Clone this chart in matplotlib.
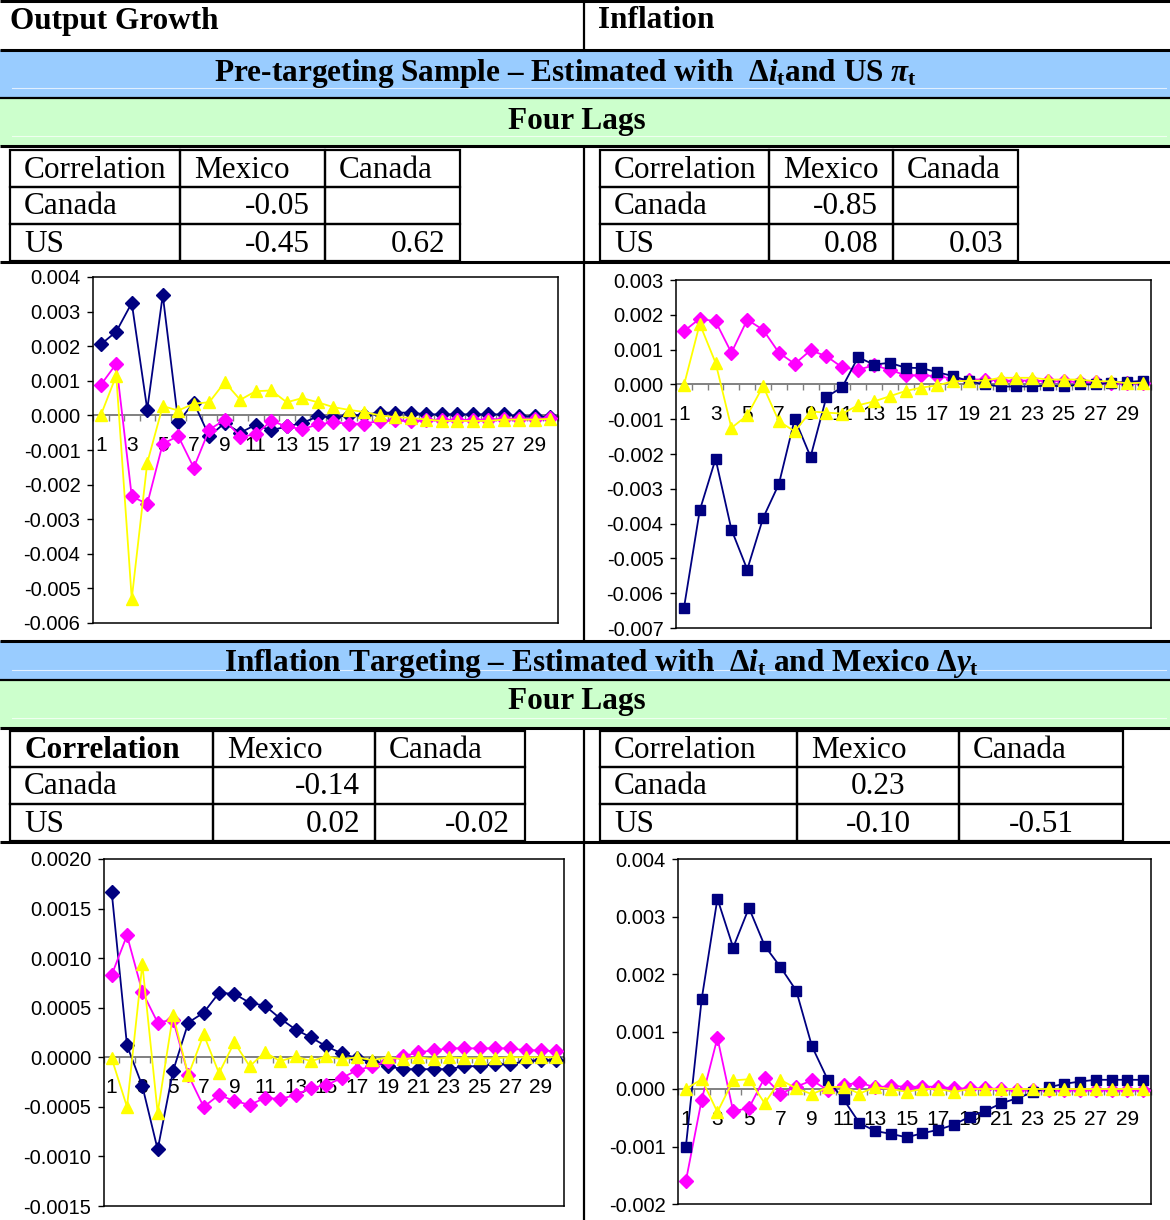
import matplotlib
matplotlib.use('Agg')
import matplotlib.pyplot as plt
from matplotlib.patches import Rectangle
from matplotlib.ticker import FormatStrFormatter
import numpy as np

plt.rcParams['font.family'] = ['Liberation Sans', 'DejaVu Sans']
plt.rcParams['axes.unicode_minus'] = False
plt.rcParams['mathtext.fontset'] = 'custom'
plt.rcParams['mathtext.rm'] = 'Liberation Serif:bold'
plt.rcParams['mathtext.it'] = 'Liberation Serif:italic:bold'
plt.rcParams['mathtext.bf'] = 'Liberation Serif:bold'

W, H = 1170, 1220

steps = np.arange(1, 31)

# impulse responses, pre-targeting sample
og_pre_mex = [0.00205, 0.00242, 0.00325, 0.00017, 0.00348, -0.00019, 0.00037, -0.00060, -0.00022, -0.00050,
              -0.00027, -0.00043, -0.00032, -0.00022, -0.00003, -0.00005, 0.00000, 0.00002, 0.00008, 0.00008,
              0.00008, 0.00003, 0.00003, 0.00003, 0.00003, 0.00003, 0.00003, -0.00003, -0.00003, -0.00005]
og_pre_can = [0.00088, 0.00149, -0.00234, -0.00256, -0.00082, -0.00060, -0.00151, -0.00041, -0.00013, -0.00062,
              -0.00055, -0.00016, -0.00032, -0.00040, -0.00026, -0.00020, -0.00024, -0.00024, -0.00016, -0.00014,
              -0.00017, -0.00013, -0.00013, -0.00013, -0.00013, -0.00012, -0.00010, -0.00010, -0.00010, -0.00008]
og_pre_us = [0.00000, 0.00115, -0.00530, -0.00137, 0.00027, 0.00014, 0.00034, 0.00038, 0.00096, 0.00045,
             0.00070, 0.00072, 0.00038, 0.00050, 0.00038, 0.00024, 0.00016, 0.00010, 0.00000, -0.00005,
             -0.00007, -0.00012, -0.00016, -0.00016, -0.00016, -0.00016, -0.00012, -0.00012, -0.00012, -0.00010]

inf_pre_mex = [-0.00643, -0.00362, -0.00214, -0.00417, -0.00532, -0.00384, -0.00286, -0.00099, -0.00208, -0.00036,
               -0.00008, 0.00078, 0.00057, 0.00062, 0.00048, 0.00047, 0.00035, 0.00024, 0.00009, 0.00000,
               -0.00006, -0.00006, -0.00006, -0.00003, -0.00006, 0.00000, 0.00000, 0.00005, 0.00007, 0.00010]
inf_pre_can = [0.00153, 0.00189, 0.00181, 0.00091, 0.00186, 0.00157, 0.00091, 0.00059, 0.00098, 0.00081,
               0.00049, 0.00042, 0.00055, 0.00042, 0.00026, 0.00026, 0.00024, 0.00016, 0.00014, 0.00014,
               0.00011, 0.00011, 0.00011, 0.00009, 0.00009, 0.00007, 0.00007, 0.00005, 0.00005, 0.00003]
inf_pre_us = [-0.00003, 0.00174, 0.00062, -0.00125, -0.00089, -0.00005, -0.00106, -0.00135, -0.00078, -0.00081,
              -0.00084, -0.00060, -0.00049, -0.00034, -0.00019, -0.00009, -0.00003, 0.00009, 0.00010, 0.00011,
              0.00019, 0.00019, 0.00019, 0.00014, 0.00014, 0.00014, 0.00009, 0.00009, 0.00003, 0.00005]

# impulse responses, inflation targeting sample
og_it_mex = [0.00167, 0.00012, -0.00029, -0.00093, -0.00014, 0.00035, 0.00045, 0.00065, 0.00064, 0.00055,
             0.00052, 0.00039, 0.00028, 0.00020, 0.00011, 0.00004, -0.00001, -0.00005, -0.00009, -0.00012,
             -0.00012, -0.00012, -0.00012, -0.00009, -0.00009, -0.00007, -0.00007, -0.00004, -0.00003, -0.00003]
og_it_can = [0.00083, 0.00123, 0.00066, 0.00035, 0.00038, -0.00018, -0.00050, -0.00038, -0.00044, -0.00048,
             -0.00041, -0.00042, -0.00038, -0.00031, -0.00028, -0.00021, -0.00013, -0.00009, -0.00004, 0.00001,
             0.00005, 0.00007, 0.00009, 0.00009, 0.00009, 0.00009, 0.00009, 0.00007, 0.00007, 0.00006]
og_it_us = [-0.00001, -0.00050, 0.00094, -0.00056, 0.00043, -0.00018, 0.00023, -0.00016, 0.00015, -0.00009,
            0.00005, -0.00004, 0.00001, -0.00004, 0.00001, -0.00002, 0.00000, -0.00003, 0.00000, -0.00002,
            0.00000, -0.00002, 0.00000, -0.00001, -0.00001, -0.00001, 0.00000, 0.00000, 0.00000, 0.00000]

inf_it_mex = [-0.00100, 0.00156, 0.00331, 0.00246, 0.00315, 0.00249, 0.00212, 0.00171, 0.00074, 0.00016,
              -0.00018, -0.00059, -0.00073, -0.00078, -0.00084, -0.00077, -0.00071, -0.00062, -0.00048, -0.00038,
              -0.00025, -0.00016, -0.00006, 0.00003, 0.00009, 0.00013, 0.00016, 0.00016, 0.00016, 0.00016]
inf_it_can = [-0.00160, -0.00019, 0.00089, -0.00039, -0.00033, 0.00020, -0.00008, 0.00004, 0.00015, -0.00002,
              0.00007, 0.00011, 0.00003, 0.00005, 0.00004, 0.00004, 0.00004, 0.00001, 0.00001, 0.00001,
              0.00000, -0.00001, -0.00001, -0.00001, -0.00002, -0.00002, -0.00002, -0.00002, -0.00002, -0.00002]
inf_it_us = [0.00000, 0.00017, -0.00040, 0.00015, 0.00017, -0.00025, 0.00016, 0.00001, -0.00009, 0.00003,
             0.00004, -0.00008, 0.00003, 0.00000, -0.00005, 0.00000, 0.00000, -0.00005, 0.00000, 0.00000,
             0.00000, 0.00000, 0.00000, 0.00000, 0.00000, 0.00000, 0.00000, 0.00000, 0.00000, 0.00000]

# correlation tables
corr_pre_og = [["Correlation", "Mexico", "Canada"], ["Canada", "-0.05", ""], ["US", "-0.45", "0.62"]]
corr_pre_inf = [["Correlation", "Mexico", "Canada"], ["Canada", "-0.85", ""], ["US", "0.08", "0.03"]]
corr_it_og = [["Correlation", "Mexico", "Canada"], ["Canada", "-0.14", ""], ["US", "0.02", "-0.02"]]
corr_it_inf = [["Correlation", "Mexico", "Canada"], ["Canada", "0.23", ""], ["US", "-0.10", "-0.51"]]

col_heads = ["Output Growth", "Inflation"]
band_pre = r"Pre-targeting Sample – Estimated with  $\Delta i_{\rm t}$and US $\pi_{\rm t}$"
band_it = r"Inflation Targeting – Estimated with  $\Delta i_{\rm t}$ and Mexico $\Delta y_{\rm t}$"
lags_label = "Four Lags"

NAVY, MAGENTA, YELLOW = '#000080', '#FF00FF', '#FFFF00'
BLUE_BAND, GREEN_BAND = '#99CCFF', '#CCFFCC'
SERIF = ['Liberation Serif', 'DejaVu Serif']
FS = 22.5

fig = plt.figure(figsize=(W / 100, H / 100), dpi=100)

# background layer in pixel units for the table grid
bg = fig.add_axes([0, 0, 1, 1])
bg.set_xlim(0, W)
bg.set_ylim(H, 0)
bg.axis('off')


def hline(y, x0=0, x1=W, lw=2.2):
    bg.plot([x0, x1], [y, y], color='black', lw=lw, solid_capstyle='butt')


def vline(x, y0, y1, lw=1.6):
    bg.plot([x, x], [y0, y1], color='black', lw=lw, solid_capstyle='butt')


def band(y0, y1, color, text, xtext, ytext, size):
    bg.add_patch(Rectangle((0, y0), W, y1 - y0, facecolor=color, edgecolor='none'))
    bg.plot([12, W - 4], [y1 - 10, y1 - 10], color='white', lw=0.8, alpha=0.7)
    bg.text(xtext, ytext, text, ha='center', va='center', fontsize=size,
            fontweight='bold', family=SERIF)


def table(rows, cols, ys, align, bold_corner=False):
    for r in range(3):
        for c in range(3):
            x0, x1 = cols[c], cols[c + 1]
            y0, y1 = ys[r], ys[r + 1]
            bg.add_patch(Rectangle((x0, y0), x1 - x0, y1 - y0, facecolor='none',
                                   edgecolor='black', lw=1.6))
            s = rows[r][c]
            if not s:
                continue
            if r == 0 or c == 0:
                tx, ha = x0 + 14, 'left'
            elif align == 'right':
                tx, ha = x1 - 15, 'right'
            else:
                tx, ha = (x0 + x1) / 2, 'center'
            fw = 'bold' if (bold_corner and r == 0 and c == 0) else 'normal'
            bg.text(tx, (y0 + y1) / 2 + 1.5, s, ha=ha, va='center', fontsize=FS,
                    fontweight=fw, family=SERIF)


# header row
hline(1)
bg.text(10, 21, col_heads[0], ha='left', va='center', fontsize=FS, fontweight='bold', family=SERIF)
bg.text(598, 21, col_heads[1], ha='left', va='center', fontsize=FS, fontweight='bold', family=SERIF)
vline(584, 0, 50)

# pre-targeting section
band(50, 98, BLUE_BAND, band_pre, 566, 73, 22.5)
band(98, 146, GREEN_BAND, lags_label, 577, 121, FS)
hline(50)
hline(98, lw=1.6)
hline(146)
table(corr_pre_og, [10, 180, 325, 460], [150, 187, 224, 261], 'right')
table(corr_pre_inf, [600, 769, 893, 1018], [150, 187, 224, 261], 'right')
hline(262)
vline(584, 146, 641)

# inflation targeting section
hline(641)
band(641, 680, BLUE_BAND, band_it, 602, 663, 22.5)
band(680, 728, GREEN_BAND, lags_label, 577, 702, FS)
hline(680, lw=1.6)
hline(728)
table(corr_it_og, [10, 213, 375, 525], [731, 767, 804, 841], 'right', bold_corner=True)
table(corr_it_inf, [600, 797, 959, 1123], [731, 767, 804, 841], 'center')
hline(842)
vline(584, 728, H)


def px_axes(left, top, right, bottom):
    return fig.add_axes([left / W, 1 - bottom / H, (right - left) / W, (bottom - top) / H])


def irf_chart(ax, mex, can, us, ylim, step, fmt, mex_marker):
    ax.axhline(0, color='#808080', lw=1.4, zorder=1)
    ax.plot(steps, can, color=MAGENTA, marker='D', ms=7, lw=1.3, zorder=3)
    if mex_marker == 's':
        ax.plot(steps, mex, color=NAVY, marker='s', ms=7.5, lw=1.3, zorder=4)
    else:
        ax.plot(steps, mex, color=NAVY, marker='D', ms=7, lw=1.3, zorder=2)
    ax.plot(steps, us, color=YELLOW, marker='^', ms=9, lw=1.3, zorder=5)
    ax.set_xlim(0.5, 30.5)
    ax.set_ylim(*ylim)
    ax.set_yticks(np.arange(ylim[0], ylim[1] + step / 2, step))
    ax.yaxis.set_major_formatter(FormatStrFormatter(fmt))
    ax.set_xticks([])
    ax.tick_params(axis='y', length=4, width=1, pad=5, labelsize=14.5)
    for sp in ax.spines.values():
        sp.set_linewidth(1.1)
    # category axis crossing at zero
    sec = ax.secondary_xaxis(0, transform=ax.transData)
    sec.set_xticks(range(1, 31, 2))
    sec.set_xticks(np.arange(0.5, 31, 1), minor=True)
    sec.tick_params(which='major', length=0, pad=15, labelsize=15)
    sec.tick_params(which='minor', length=4, width=1, color='#808080')
    sec.spines['bottom'].set_visible(False)


ax1 = px_axes(93, 277, 558, 623)
irf_chart(ax1, og_pre_mex, og_pre_can, og_pre_us, (-0.006, 0.004), 0.001, '%.3f', 'D')
ax2 = px_axes(676, 280, 1151, 628)
irf_chart(ax2, inf_pre_mex, inf_pre_can, inf_pre_us, (-0.007, 0.003), 0.001, '%.3f', 's')
ax3 = px_axes(104, 859, 564, 1206)
irf_chart(ax3, og_it_mex, og_it_can, og_it_us, (-0.0015, 0.002), 0.0005, '%.4f', 'D')
ax4 = px_axes(678, 859, 1151, 1204)
irf_chart(ax4, inf_it_mex, inf_it_can, inf_it_us, (-0.002, 0.004), 0.001, '%.3f', 's')

fig.savefig('out.png', dpi=100)
